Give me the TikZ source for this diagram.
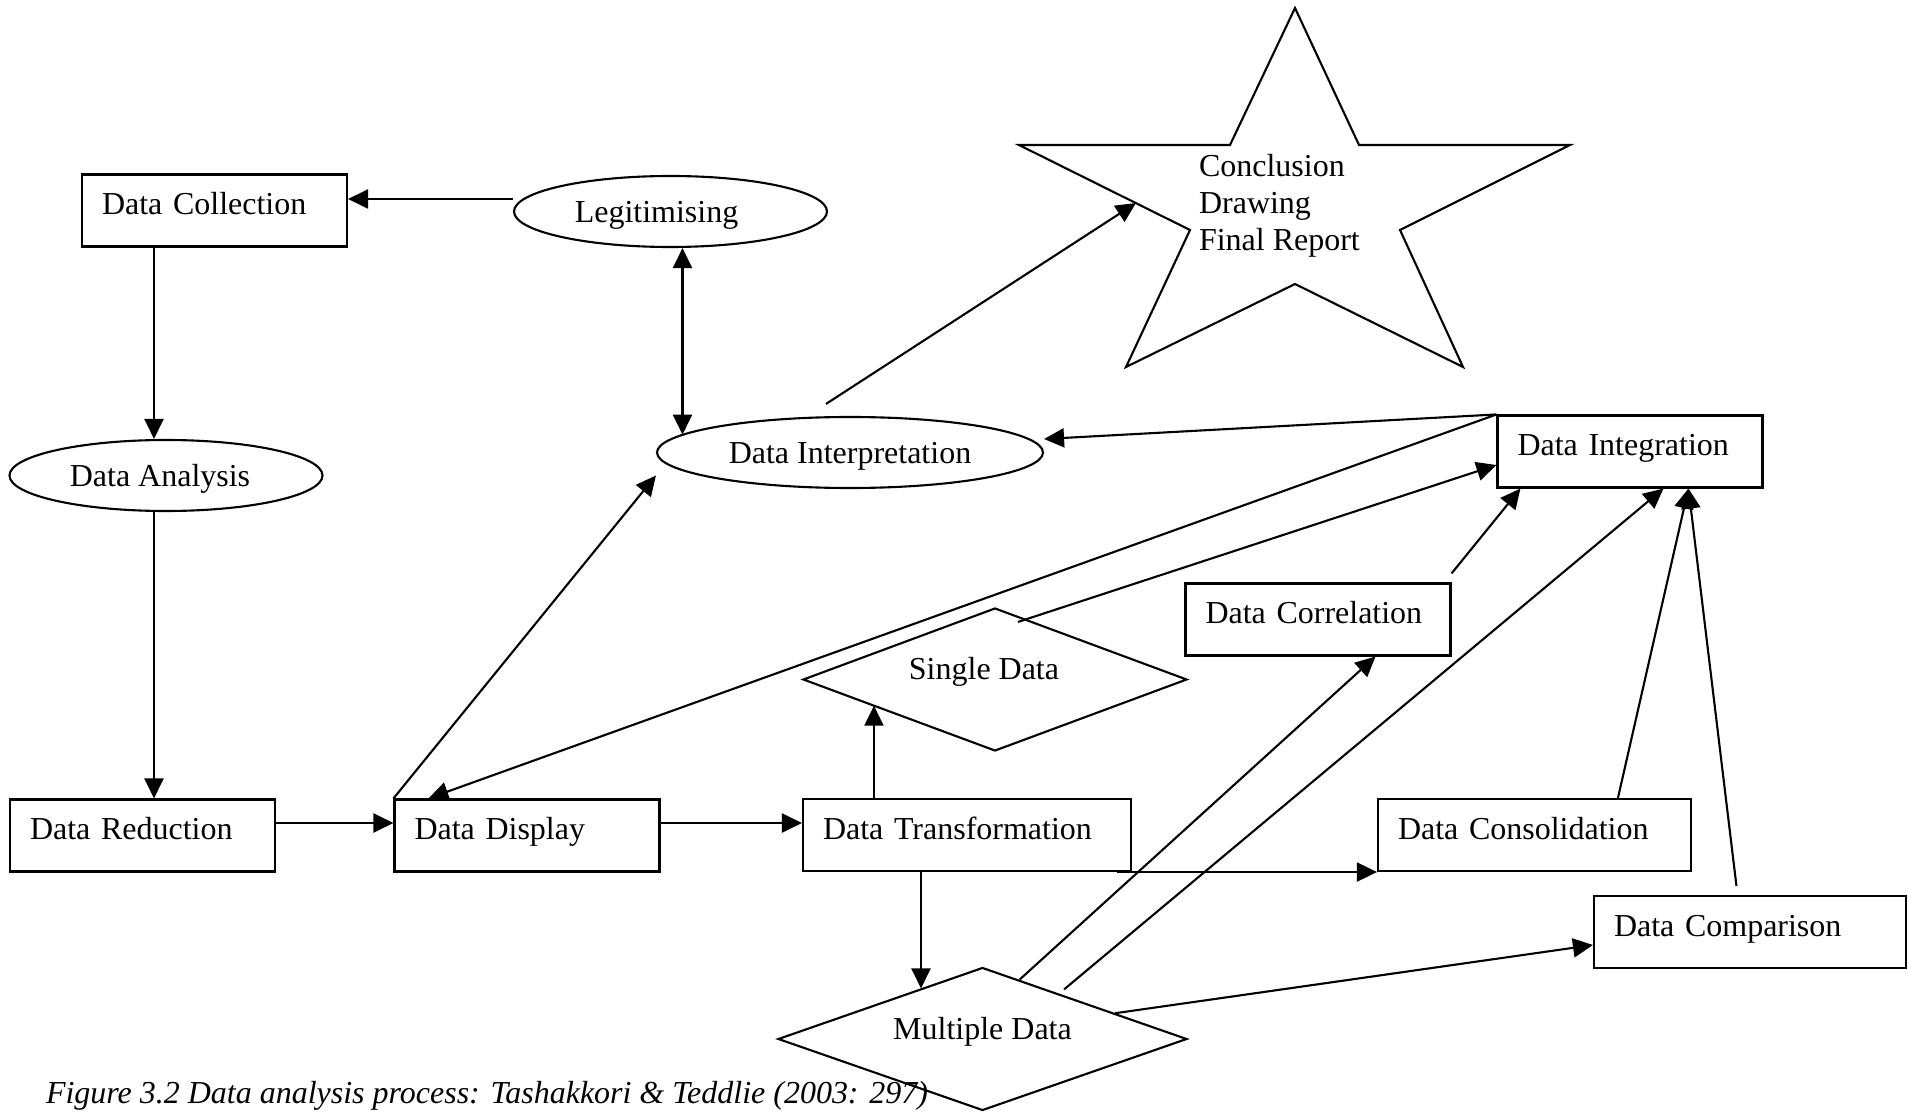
\documentclass[tikz,border=0pt]{standalone}
\usepackage{fontspec}
\setmainfont{Liberation Serif}
\usepackage{tikz}
\usetikzlibrary{arrows.meta}
\tikzset{>={Triangle[length=0.2cm,width=0.19cm]}}
\usetikzlibrary{shapes.geometric}
\tikzset{
    box/.style={draw,rectangle,minimum height=0.72cm,inner xsep=0.2cm,inner ysep=0pt,
        text width=#1,align=left,text height=0.24cm,text depth=0.16cm},
    box/.default=2.25cm,
    oval/.style={draw,ellipse,minimum width=#1,minimum height=0.71cm,inner sep=0pt,
        text height=0.25cm,text depth=0.03cm},
    oval/.default=3.13cm,
    rhombus/.style={draw,diamond,aspect=2.8,minimum width=#1,minimum height=1.43cm,
        inner sep=0pt,text height=0.15cm,text depth=0.15cm}
}

\begin{document}
\begin{tikzpicture}[font=\fontsize{9.1pt}{10.6pt}\selectfont, line width=0.6pt]
    \useasboundingbox (0,0) rectangle (19.08,-11.12);
    \node[box] at (2.145,-2.105) (coll) {Data Collection};
    \node[oval] at (6.705,-2.115) (legit) {Legitimising\hspace*{0.28cm}};
    \node[oval] at (1.66,-4.755) (anal) {Data Analysis\hspace*{0.12cm}};
    \node[oval=3.86cm] at (8.50,-4.525) (interp) {Data Interpretation};
    \node[box] at (1.425,-8.355) (red) {Data Reduction};
    \node[box] at (5.27,-8.355) (disp) {Data Display};
    \node[box=2.88cm] at (9.67,-8.35) (trans) {Data Transformation};
    \node[box=2.73cm] at (15.345,-8.35) (cons) {Data Consolidation};
    \node[box=2.72cm] at (17.50,-9.32) (comp) {Data Comparison};
    \node[box] at (16.30,-4.515) (integ) {Data Integration};
    \node[box] at (13.18,-6.195) (corr) {Data Correlation};
    \node[rhombus=3.84cm] at (9.95,-6.795) (single) {Single Data\hspace*{0.22cm}};
    \node[rhombus=4.09cm] at (9.825,-10.39) (multi) {Multiple Data};
    % star
    \draw (12.95,-0.08) -- (13.59,-1.45) -- (15.70,-1.45) -- (14.00,-2.30) -- (14.63,-3.67)
        -- (12.95,-2.84) -- (11.26,-3.67) -- (11.90,-2.30) -- (10.19,-1.45) -- (12.30,-1.45) -- cycle;
    \coordinate (starin) at (11.36,-2.03);
    \node[anchor=west,align=left,inner sep=0pt] at (11.98,-2.06) (concl) {Conclusion\\Drawing\\Final Report};
    \node[anchor=base west,inner sep=0pt,font=\fontsize{9.1pt}{10.6pt}\selectfont\itshape] at (0.45,-11.03) (caption)
        {Figure 3.2 Data analysis process: Tashakkori \& Teddlie (2003: 297)};
    \path[->]
    ([yshift=0.125cm]legit.west) edge ([yshift=0.125cm]legit.west -| coll.east)
    ([xshift=-0.12cm]anal.north |- coll.south) edge ([xshift=-0.12cm]anal.north)
    ([xshift=-0.12cm]anal.south) edge ([xshift=-0.12cm]anal.south |- red.north)
    ([yshift=0.125cm]red.east) edge ([yshift=0.125cm]red.east -| disp.west)
    ([yshift=0.125cm]disp.east) edge ([yshift=0.125cm]disp.east -| trans.west)
    (disp.north west) edge ([yshift=-0.23cm]interp.west)
    ([xshift=0.12cm]legit.south) edge[<->] ([xshift=0.12cm]legit.south |- interp.174)
    ([shift={(-0.24,0.12)}]interp.north) edge (starin)
    (integ.north west) edge ([yshift=0.135cm]interp.east)
    (integ.north west) edge ([xshift=0.35cm]disp.north west)
    ([shift={(0.23,-0.15)}]single.north) edge ([yshift=-0.135cm]integ.west)
    ([yshift=0.09cm]corr.north east) edge ([xshift=0.24cm]integ.south west)
    ([xshift=0.72cm]trans.north west) edge ([xshift=0.72cm]trans.north west |- single.192)
    ([xshift=-0.46cm]trans.south) edge ([xshift=-0.46cm]trans.south |- multi.141)
    ([xshift=-0.15cm]trans.south east) edge (cons.south west)
    (multi.58) edge ([xshift=1.91cm]corr.south west)
    ([shift={(0.815,-0.23)}]multi.north) edge ([xshift=1.67cm]integ.south west)
    (multi.11) edge ([yshift=-0.13cm]comp.west)
    ([xshift=2.41cm]cons.north west) edge ([xshift=1.92cm]integ.south west)
    ([shift={(1.435,0.09)}]comp.north west) edge ([xshift=1.92cm]integ.south west)
    ;
\end{tikzpicture}
\end{document}
